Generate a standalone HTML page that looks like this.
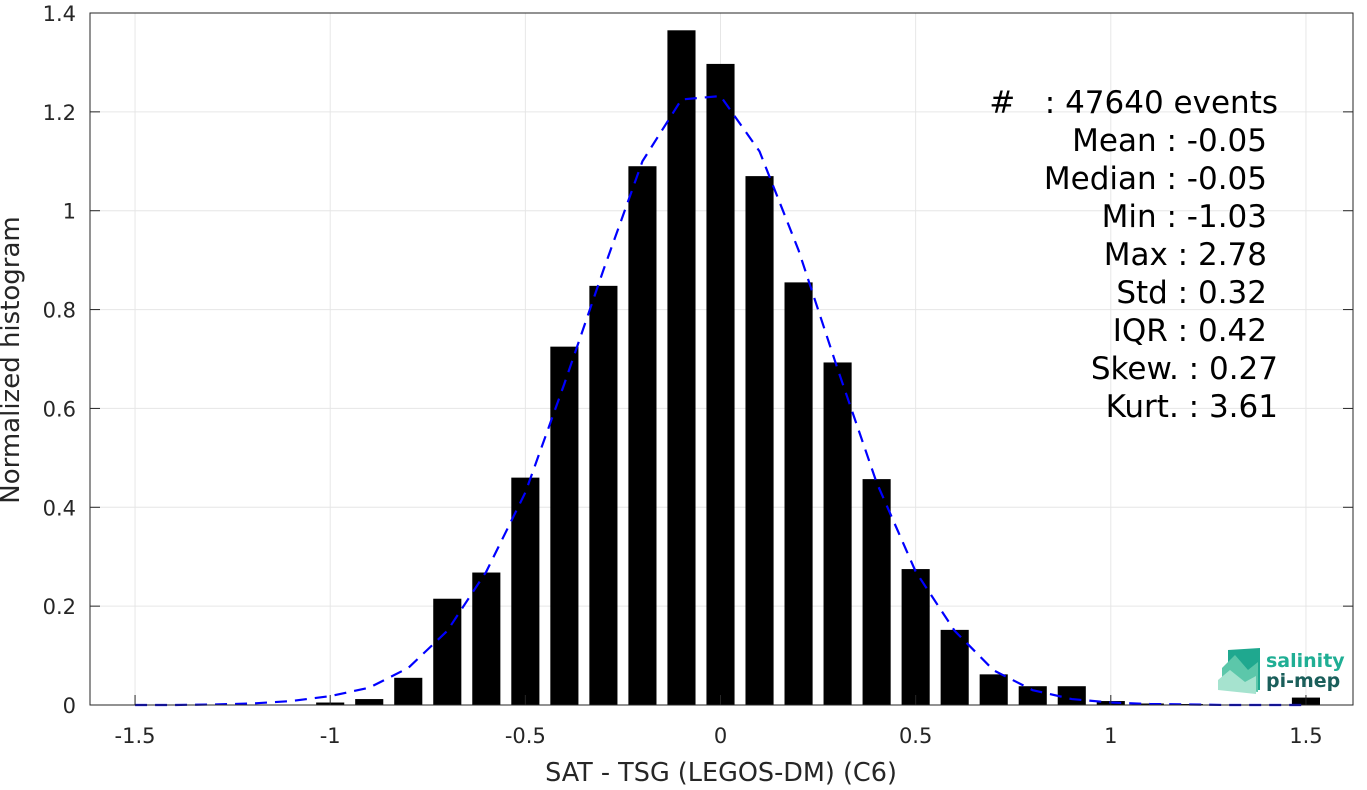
<!DOCTYPE html>
<html><head><meta charset="utf-8"><style>
body{margin:0;background:#fff;}
svg text{font-family:"DejaVu Sans","Liberation Sans",sans-serif;}
</style></head><body>
<svg id="chart" width="1367" height="785" xmlns="http://www.w3.org/2000/svg">
<g id="grid"></g>
<g id="bars"></g>
<path id="fit" fill="none" stroke="#0000ff" stroke-width="2.2" stroke-dasharray="12,8"/>
<rect x="90" y="13" width="1263" height="692" fill="none" stroke="#262626" stroke-width="1"/>
<g id="axes"></g>
<text x="721" y="781" font-size="25.5" text-anchor="middle" fill="#262626">SAT - TSG (LEGOS-DM) (C6)</text>
<text transform="translate(19,360) rotate(-90)" font-size="26" text-anchor="middle" fill="#262626">Normalized histogram</text>
<g font-size="31" text-anchor="end" fill="#000">
<text x="1278" y="113" style="white-space:pre">#   : 47640 events</text>
<text x="1267" y="151">Mean : -0.05</text>
<text x="1267" y="189">Median : -0.05</text>
<text x="1267" y="227">Min : -1.03</text>
<text x="1267" y="265">Max : 2.78</text>
<text x="1267" y="303">Std : 0.32</text>
<text x="1267" y="341">IQR : 0.42</text>
<text x="1278" y="379">Skew. : 0.27</text>
<text x="1278" y="417">Kurt. : 3.61</text>
</g>
<g>
<polygon points="1228,650 1260,648 1260,690 1228,690" fill="#1fa88f"/>
<polygon points="1222,668 1235,655 1248,670 1258,662 1258,692 1222,688" fill="#5cc7aa"/>
<polygon points="1218,680 1230,670 1245,682 1256,676 1256,694 1218,690" fill="#a6e3cf"/>
<text x="1266" y="667" font-size="19" font-weight="bold" fill="#1fae94">salinity</text>
<text x="1266" y="687" font-size="19" font-weight="bold" fill="#1a5e5a">pi-mep</text>
</g>
</svg>
<script>
const binCenters=[-1.0,-0.9,-0.8,-0.7,-0.6,-0.5,-0.4,-0.3,-0.2,-0.1,0.0,0.1,0.2,0.3,0.4,0.5,0.6,0.7,0.8,0.9,1.0,1.1,1.2,1.3,1.4,1.5];
const binValues=[0.005,0.012,0.055,0.215,0.268,0.46,0.725,0.848,1.09,1.365,1.297,1.07,0.855,0.693,0.457,0.275,0.152,0.062,0.038,0.038,0.008,0.003,0.002,0.001,0.001,0.015];
const fitX=[-1.5,-1.4,-1.3,-1.2,-1.1,-1.0,-0.9,-0.8,-0.7,-0.6,-0.5,-0.4,-0.3,-0.2,-0.1,0.0,0.1,0.2,0.3,0.4,0.5,0.6,0.7,0.8,0.9,1.0,1.1,1.2,1.3,1.4,1.5];
const fitY=[0,0,0.001,0.003,0.008,0.018,0.035,0.075,0.15,0.27,0.43,0.65,0.88,1.1,1.225,1.232,1.12,0.92,0.68,0.45,0.27,0.15,0.07,0.03,0.012,0.005,0.002,0.001,0,0,0];
const xTicks=[-1.5,-1,-0.5,0,0.5,1,1.5];
const xTickLabels=["-1.5","-1","-0.5","0","0.5","1","1.5"];
const yTicks=[0,0.2,0.4,0.6,0.8,1,1.2,1.4];
const yTickLabels=["0","0.2","0.4","0.6","0.8","1","1.2","1.4"];
const NS="http://www.w3.org/2000/svg";
const X0=90,X1=1353,Y0=705,Y1=13;
function sx(v){return 720.5+v*390.3;}
function sy(v){return Y0-v*(Y0-Y1)/1.4;}
function mk(tag,attrs,parent){const e=document.createElementNS(NS,tag);for(const k in attrs)e.setAttribute(k,attrs[k]);parent.appendChild(e);return e;}
const grid=document.getElementById('grid'),axes=document.getElementById('axes'),bars=document.getElementById('bars');
xTicks.forEach((t,i)=>{
 const l=mk('line',{x1:sx(t),x2:sx(t),y1:Y1,y2:Y0,stroke:'#e6e6e6'},grid);
 
 
 const tk=mk('line',{x1:sx(t),x2:sx(t),y1:Y0,y2:Y0-10,stroke:'#262626'},axes);
 
 
 const tx=mk('text',{x:sx(t),y:Y0+38,'font-size':21,'text-anchor':'middle',fill:'#262626'},axes);
 tx.textContent=xTickLabels[i];
 
 
});
yTicks.forEach((t,i)=>{
 const l=mk('line',{x1:X0,x2:X1,y1:sy(t),y2:sy(t),stroke:'#e6e6e6'},grid);
 
 
 const tk=mk('line',{x1:X0,x2:X0+10,y1:sy(t),y2:sy(t),stroke:'#262626'},axes);
 
 
 const tk2=mk('line',{x1:X1,x2:X1-10,y1:sy(t),y2:sy(t),stroke:'#262626'},axes);
 
 
 const tx=mk('text',{x:X0-14,y:sy(t)+8,'font-size':21,'text-anchor':'end',fill:'#262626'},axes);
 tx.textContent=yTickLabels[i];
 
 
});
const bw=0.072*390.3;
binCenters.forEach((c,i)=>{
 const r=mk('rect',{x:sx(c)-bw/2,y:sy(binValues[i]),width:bw,height:Y0-sy(binValues[i]),fill:'#000'},bars);
 
 
});
document.getElementById('fit').setAttribute('d',fitX.map((x,i)=>(i?'L':'M')+sx(x)+','+sy(fitY[i])).join(' '));
</script>
</body></html>
